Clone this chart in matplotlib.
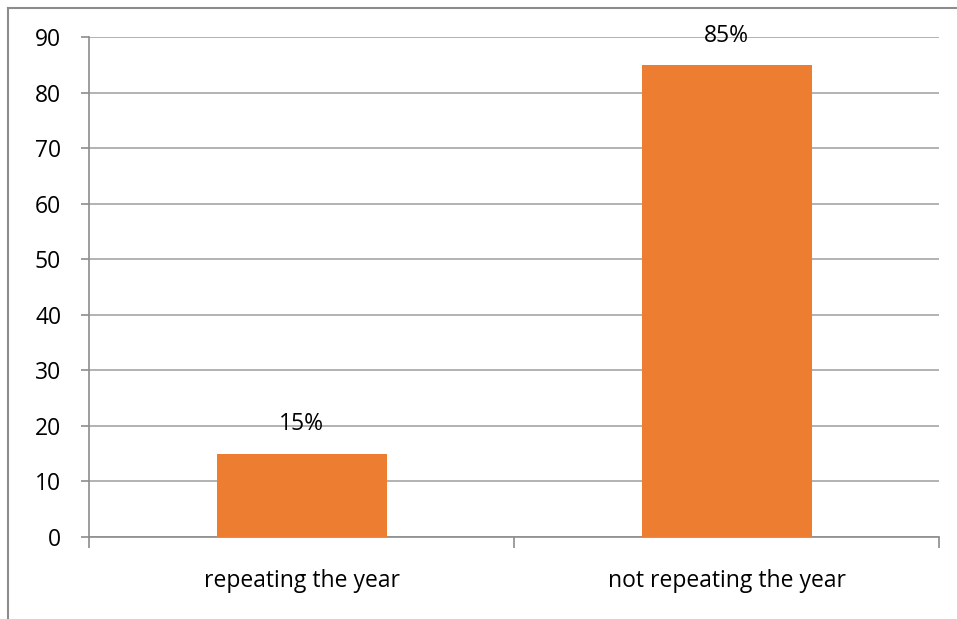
import matplotlib
matplotlib.use("Agg")
import matplotlib.pyplot as plt
from matplotlib.lines import Line2D

# data
categories = ["repeating the year", "not repeating the year"]
values = [15, 85]
labels = ["15%", "85%"]
yticks = [0, 10, 20, 30, 40, 50, 60, 70, 80, 90]

plt.rcParams["font.family"] = ["Open Sans", "DejaVu Sans"]
FS = 16.5

W, H = 957, 619
fig = plt.figure(figsize=(W / 100, H / 100), dpi=100)
# plot area in pixels: left 89, right 939, top 37, bottom 537
ax = fig.add_axes([89 / W, 1 - 537 / H, (939 - 89) / W, (537 - 37) / H])

x = [0, 1]
ax.bar(x, values, width=0.4, color="#ED7D31", zorder=3)
for xi, v, lab in zip(x, values, labels):
    ax.annotate(lab, (xi, v), xytext=(0, 21), textcoords="offset points",
                ha="center", va="center", fontsize=FS, color="black")

ax.set_xlim(-0.5, 1.5)
ax.set_ylim(0, 90)
ax.set_yticks(yticks)
ax.yaxis.grid(True, color="#a6a6a6", linewidth=1.2, zorder=0)
ax.set_axisbelow(True)

ax.set_xticks(x)
ax.set_xticklabels(categories, fontsize=FS)
ax.tick_params(axis="x", length=0, pad=23)
ax.tick_params(axis="y", length=6, width=1.2, color="#8c8c8c", labelsize=FS, pad=14)

# category boundary ticks
ax.set_xticks([-0.5, 0.5, 1.5], minor=True)
ax.tick_params(axis="x", which="minor", length=8, width=1.2, color="#8c8c8c")

for side in ["top", "right"]:
    ax.spines[side].set_visible(False)
for side in ["left", "bottom"]:
    ax.spines[side].set_color("#8c8c8c")
    ax.spines[side].set_linewidth(1.2)

# outer chart border (left and top visible)
fig.add_artist(Line2D([8 / W, 8 / W], [0, 1 - 8 / H], color="#8c8c8c", lw=1.5,
                      transform=fig.transFigure))
fig.add_artist(Line2D([8 / W, 1], [1 - 8 / H, 1 - 8 / H], color="#8c8c8c", lw=1.5,
                      transform=fig.transFigure))

fig.savefig("out.png", dpi=100)
